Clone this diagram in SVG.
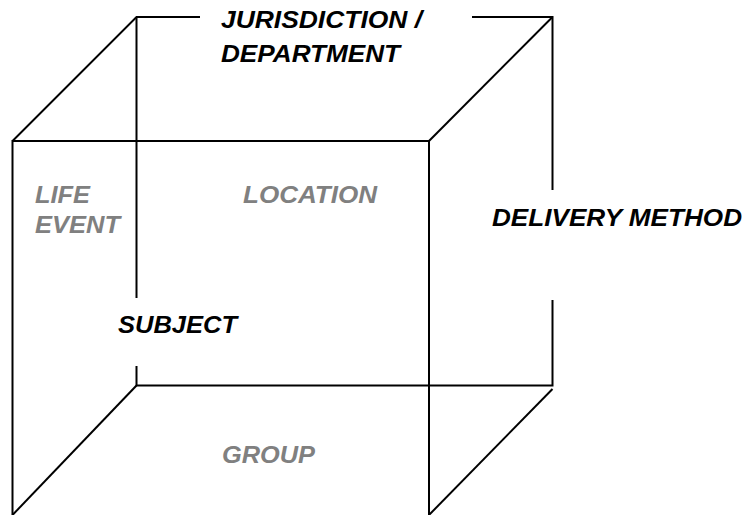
<svg xmlns="http://www.w3.org/2000/svg" width="746" height="515" viewBox="0 0 746 515">
<style>
.e{stroke:#000;stroke-width:2;fill:none;stroke-linecap:butt}
.t{font-family:"Liberation Sans",Arial,sans-serif;font-weight:bold;font-style:italic;font-size:24px}
.b{fill:#000}
.g{fill:#808080}
</style>
<rect width="746" height="515" fill="#fff"/>
<g id="edges">
<path class="e" d="M12.5,515 V141 H429 V515"/>
<path class="e" d="M12.5,141 L136.5,17 H200"/>
<path class="e" d="M472,17 H552.5 V190"/>
<path class="e" d="M429,141 L552.5,17"/>
<path class="e" d="M136.5,17 V298"/>
<path class="e" d="M136.5,366 V385.5 H552.5 V300"/>
<path class="e" d="M12.5,515 L136.5,385.5"/>
<path class="e" d="M552.5,389 L429,515"/>
</g>
<g id="jurisdiction"><text class="t b" x="221" y="27.5" textLength="201" lengthAdjust="spacingAndGlyphs">JURISDICTION /</text><text class="t b" x="221" y="61.5" textLength="179" lengthAdjust="spacingAndGlyphs">DEPARTMENT</text></g>
<g id="life-event"><text class="t g" x="35" y="203" textLength="55" lengthAdjust="spacingAndGlyphs">LIFE</text><text class="t g" x="35" y="233" textLength="85" lengthAdjust="spacingAndGlyphs">EVENT</text></g>
<g id="location"><text class="t g" x="243" y="203" textLength="134" lengthAdjust="spacingAndGlyphs">LOCATION</text></g>
<g id="delivery"><text class="t b" x="492" y="226" textLength="250" lengthAdjust="spacingAndGlyphs">DELIVERY METHOD</text></g>
<g id="subject"><text class="t b" x="118" y="333" textLength="119" lengthAdjust="spacingAndGlyphs">SUBJECT</text></g>
<g id="group"><text class="t g" x="222" y="463" textLength="93" lengthAdjust="spacingAndGlyphs">GROUP</text></g>
</svg>
